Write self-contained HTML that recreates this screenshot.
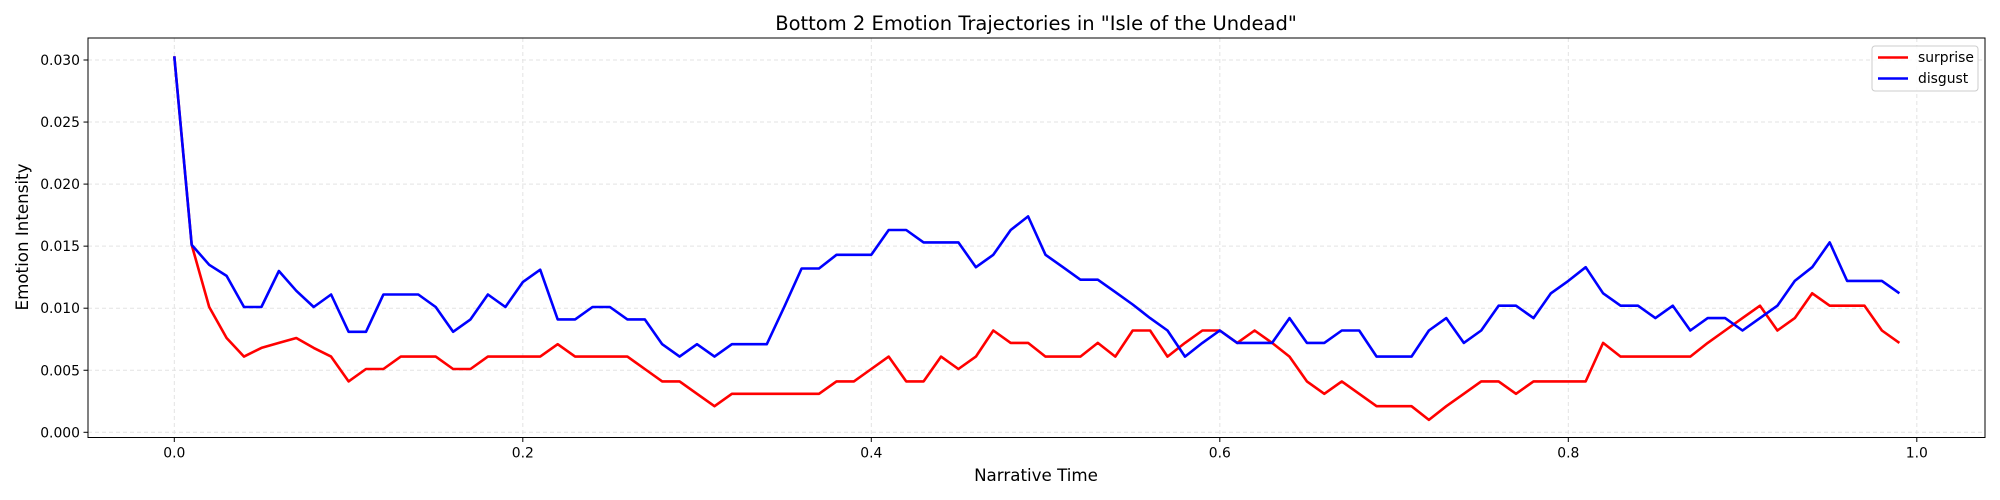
<!DOCTYPE html>
<html><head><meta charset="utf-8"><style>
body{margin:0;background:#fff;}
svg{display:block;font-family:"DejaVu Sans","Liberation Sans",sans-serif;}
</style></head><body>
<svg id="chart" width="2000" height="500" viewBox="0 0 2000 500">
<rect x="0" y="0" width="2000" height="500" fill="#fff"/>
<g id="grid"></g>
<g id="series"></g>
<g id="axes"></g>
<text x="1036" y="30" text-anchor="middle" font-size="19.5" fill="#000">Bottom 2 Emotion Trajectories in "Isle of the Undead"</text>
<text x="1036" y="481" text-anchor="middle" font-size="16.7" fill="#000">Narrative Time</text>
<text transform="translate(28,237) rotate(-90)" text-anchor="middle" font-size="16.7" fill="#000">Emotion Intensity</text>
<g>
<rect x="1872" y="46" width="106" height="45" rx="3" fill="#fff" fill-opacity="0.8" stroke="#ccc" stroke-width="1"/>
<line x1="1878" y1="57.5" x2="1908" y2="57.5" stroke="#ff0000" stroke-width="2.5"/>
<text x="1918" y="62" font-size="13.9" fill="#000">surprise</text>
<line x1="1878" y1="78.5" x2="1908" y2="78.5" stroke="#0000ff" stroke-width="2.5"/>
<text x="1918" y="83" font-size="13.9" fill="#000">disgust</text>
</g>
</svg>
<script>
const surprise=[0.0303,0.0151,0.0101,0.0076,0.0061,0.0068,0.0072,0.0076,0.0068,0.0061,
0.0041,0.0051,0.0051,0.0061,0.0061,0.0061,0.0051,0.0051,0.0061,0.0061,
0.0061,0.0061,0.0071,0.0061,0.0061,0.0061,0.0061,0.0051,0.0041,0.0041,
0.0031,0.0021,0.0031,0.0031,0.0031,0.0031,0.0031,0.0031,0.0041,0.0041,
0.0051,0.0061,0.0041,0.0041,0.0061,0.0051,0.0061,0.0082,0.0072,0.0072,
0.0061,0.0061,0.0061,0.0072,0.0061,0.0082,0.0082,0.0061,0.0072,0.0082,
0.0082,0.0072,0.0082,0.0072,0.0061,0.0041,0.0031,0.0041,0.0031,0.0021,
0.0021,0.0021,0.0010,0.0021,0.0031,0.0041,0.0041,0.0031,0.0041,0.0041,
0.0041,0.0041,0.0072,0.0061,0.0061,0.0061,0.0061,0.0061,0.0072,0.0082,
0.0092,0.0102,0.0082,0.0092,0.0112,0.0102,0.0102,0.0102,0.0082,0.0072];
const disgust=[0.0303,0.0151,0.0135,0.0126,0.0101,0.0101,0.0130,0.0114,0.0101,0.0111,
0.0081,0.0081,0.0111,0.0111,0.0111,0.0101,0.0081,0.0091,0.0111,0.0101,
0.0121,0.0131,0.0091,0.0091,0.0101,0.0101,0.0091,0.0091,0.0071,0.0061,
0.0071,0.0061,0.0071,0.0071,0.0071,0.0101,0.0132,0.0132,0.0143,0.0143,
0.0143,0.0163,0.0163,0.0153,0.0153,0.0153,0.0133,0.0143,0.0163,0.0174,
0.0143,0.0133,0.0123,0.0123,0.0113,0.0103,0.0092,0.0082,0.0061,0.0072,
0.0082,0.0072,0.0072,0.0072,0.0092,0.0072,0.0072,0.0082,0.0082,0.0061,
0.0061,0.0061,0.0082,0.0092,0.0072,0.0082,0.0102,0.0102,0.0092,0.0112,
0.0122,0.0133,0.0112,0.0102,0.0102,0.0092,0.0102,0.0082,0.0092,0.0092,
0.0082,0.0092,0.0102,0.0122,0.0133,0.0153,0.0122,0.0122,0.0122,0.0112];
const xTicks=[0.0,0.2,0.4,0.6,0.8,1.0];
const xTickLabels=["0.0","0.2","0.4","0.6","0.8","1.0"];
const yTicks=[0,0.005,0.010,0.015,0.020,0.025,0.030];
const yTickLabels=["0.000","0.005","0.010","0.015","0.020","0.025","0.030"];

const L=88,R=1985,T=38,B=437.5;
function xs(v){return 174.3+v*1742.5;}
function ys(v){return 432.3-v*12410;}
const NS="http://www.w3.org/2000/svg";
function mk(tag,attrs,parent){const e=document.createElementNS(NS,tag);for(const k in attrs)e.setAttribute(k,attrs[k]);parent.appendChild(e);return e;}
const grid=document.getElementById('grid'),axes=document.getElementById('axes'),series=document.getElementById('series');
xTicks.forEach((t,i)=>{
  const g=mk('line',{x1:xs(t),x2:xs(t),y1:T,y2:B,stroke:'#e3e3e3','stroke-width':1,'stroke-dasharray':'4,3'},grid);
  
  
  const tk=mk('line',{x1:xs(t),x2:xs(t),y1:B,y2:B+4.5,stroke:'#000','stroke-width':1},axes);
  
  
  const tx=mk('text',{x:xs(t),y:B+20,'text-anchor':'middle','font-size':13.9,fill:'#000'},axes);
  tx.textContent=xTickLabels[i];
  
  
});
yTicks.forEach((t,i)=>{
  const g=mk('line',{x1:L,x2:R,y1:ys(t),y2:ys(t),stroke:'#e3e3e3','stroke-width':1,'stroke-dasharray':'4,3'},grid);
  
  
  const tk=mk('line',{x1:L-4.5,x2:L,y1:ys(t),y2:ys(t),stroke:'#000','stroke-width':1},axes);
  
  
  const tx=mk('text',{x:L-8,y:ys(t)+5,'text-anchor':'end','font-size':13.9,fill:'#000'},axes);
  tx.textContent=yTickLabels[i];
  
  
});
const frame=mk('rect',{x:L,y:T,width:R-L,height:B-T,fill:'none',stroke:'#000','stroke-width':1},axes);


function line(data,color,name){
  const pts=data.map((v,i)=>xs(i/100).toFixed(1)+','+ys(v).toFixed(1)).join(' ');
  const p=mk('polyline',{points:pts,fill:'none',stroke:color,'stroke-width':2.6,'stroke-linejoin':'round'},series);
  
  
}
line(surprise,'#ff0000','surprise-line');
line(disgust,'#0000ff','disgust-line');
</script>
</body></html>
